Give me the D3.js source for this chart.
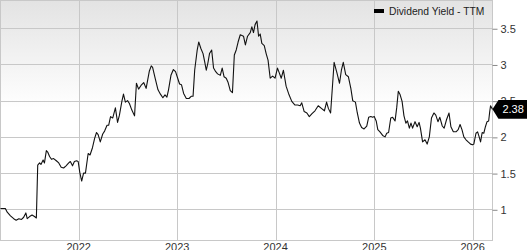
<!DOCTYPE html>
<html>
<head>
<meta charset="utf-8">
<script src="https://cdn.jsdelivr.net/npm/d3@7"></script>
<style>
  html, body { margin: 0; padding: 0; background: #fff; }
  svg { display: block; font-family: 'Liberation Sans', Arial, sans-serif; }
</style>
</head>
<body>
<div id="chart"></div>
<script>
const width = 527;
const height = 250;

const seriesName = 'Dividend Yield - TTM';
const yTicks = [1, 1.5, 2, 2.5, 3, 3.5];
const xTicks = ['2022-01-01', '2023-01-01', '2024-01-01', '2025-01-01', '2026-01-01'];
const lastLabel = '2.38';

const dates = [
  '2021-03-17', '2021-04-04', '2021-04-11', '2021-04-23', '2021-05-05', '2021-05-14', '2021-05-24',
  '2021-06-03', '2021-06-11', '2021-06-19', '2021-06-24', '2021-07-03', '2021-07-12', '2021-07-21',
  '2021-07-28', '2021-08-02', '2021-08-09', '2021-08-14', '2021-08-22', '2021-08-27', '2021-09-03',
  '2021-09-08', '2021-09-15', '2021-09-22', '2021-09-30', '2021-10-10', '2021-10-19', '2021-10-28',
  '2021-11-06', '2021-11-15', '2021-11-25', '2021-12-01', '2021-12-09', '2021-12-16', '2021-12-24',
  '2021-12-30', '2022-01-05', '2022-01-12', '2022-01-19', '2022-01-26', '2022-02-05', '2022-02-12',
  '2022-02-21', '2022-03-01', '2022-03-08', '2022-03-14', '2022-03-22', '2022-03-31', '2022-04-07',
  '2022-04-16', '2022-04-22', '2022-04-29', '2022-05-07', '2022-05-17', '2022-05-25', '2022-06-01',
  '2022-06-10', '2022-06-16', '2022-06-23', '2022-07-01', '2022-07-08', '2022-07-17', '2022-07-27',
  '2022-08-03', '2022-08-11', '2022-08-20', '2022-08-30', '2022-09-08', '2022-09-14', '2022-09-20',
  '2022-09-27', '2022-10-02', '2022-10-12', '2022-10-22', '2022-10-31', '2022-11-09', '2022-11-17',
  '2022-11-24', '2022-11-30', '2022-12-09', '2022-12-18', '2022-12-26', '2023-01-03', '2023-01-10',
  '2023-01-17', '2023-01-25', '2023-02-04', '2023-02-14', '2023-02-22', '2023-03-01', '2023-03-07',
  '2023-03-16', '2023-03-22', '2023-03-30', '2023-04-07', '2023-04-13', '2023-04-19', '2023-04-25',
  '2023-05-01', '2023-05-09', '2023-05-16', '2023-05-24', '2023-05-31', '2023-06-10', '2023-06-17',
  '2023-06-24', '2023-07-02', '2023-07-09', '2023-07-17', '2023-07-25', '2023-08-01', '2023-08-08',
  '2023-08-15', '2023-08-23', '2023-09-04', '2023-09-11', '2023-09-19', '2023-09-29', '2023-10-05',
  '2023-10-11', '2023-10-17', '2023-10-24', '2023-10-30', '2023-11-05', '2023-11-11', '2023-11-20',
  '2023-11-27', '2023-12-04', '2023-12-12', '2023-12-21', '2023-12-30', '2024-01-08', '2024-01-15',
  '2024-01-22', '2024-01-30', '2024-02-09', '2024-02-18', '2024-03-01', '2024-03-13', '2024-03-23',
  '2024-04-01', '2024-04-07', '2024-04-16', '2024-04-26', '2024-05-05', '2024-05-15', '2024-05-26',
  '2024-06-07', '2024-06-20', '2024-06-30', '2024-07-08', '2024-07-15', '2024-07-23', '2024-08-05',
  '2024-08-15', '2024-08-25', '2024-09-01', '2024-09-08', '2024-09-17', '2024-09-27', '2024-10-06',
  '2024-10-13', '2024-10-23', '2024-10-30', '2024-11-07', '2024-11-15', '2024-11-24', '2024-12-04',
  '2024-12-11', '2024-12-19', '2024-12-26', '2025-01-01', '2025-01-08', '2025-01-14', '2025-01-22',
  '2025-02-01', '2025-02-10', '2025-02-16', '2025-02-23', '2025-03-03', '2025-03-10', '2025-03-19',
  '2025-03-25', '2025-03-31', '2025-04-06', '2025-04-14', '2025-04-21', '2025-04-28', '2025-05-04',
  '2025-05-11', '2025-05-17', '2025-05-23', '2025-06-01', '2025-06-09', '2025-06-16', '2025-06-21',
  '2025-06-29', '2025-07-08', '2025-07-16', '2025-07-24', '2025-08-01', '2025-08-10', '2025-08-17',
  '2025-08-25', '2025-09-01', '2025-09-10', '2025-09-17', '2025-09-26', '2025-10-05', '2025-10-12',
  '2025-10-21', '2025-10-31', '2025-11-08', '2025-11-15', '2025-11-22', '2025-11-29', '2025-12-07',
  '2025-12-15', '2025-12-24', '2025-12-31', '2026-01-05', '2026-01-13', '2026-01-19', '2026-01-24',
  '2026-01-30', '2026-02-05', '2026-02-11', '2026-02-17', '2026-02-23', '2026-03-01', '2026-03-05',
  '2026-03-08', '2026-03-15'
];

const yieldValues = [
  1.01, 1.01, 0.96, 0.91, 0.87, 0.85, 0.87,
  0.86, 0.89, 0.95, 0.87, 0.90, 0.92, 0.90,
  0.88, 1.61, 1.64, 1.62, 1.68, 1.64, 1.81,
  1.79, 1.73, 1.69, 1.70, 1.67, 1.64, 1.58,
  1.57, 1.60, 1.64, 1.66, 1.60, 1.66, 1.67,
  1.66, 1.51, 1.39, 1.50, 1.50, 1.77, 1.75,
  1.85, 1.98, 2.06, 2.03, 1.93, 2.04, 2.08,
  2.16, 2.16, 2.28, 2.26, 2.40, 2.20, 2.30,
  2.49, 2.59, 2.48, 2.50, 2.46, 2.37, 2.29,
  2.74, 2.66, 2.71, 2.75, 2.67, 2.79, 2.91,
  2.98, 2.96, 2.80, 2.65, 2.59, 2.54, 2.58,
  2.55, 2.65, 2.85, 2.93, 2.90, 2.81, 2.73,
  2.72, 2.60, 2.53, 2.53, 2.56, 2.56, 2.92,
  3.19, 3.31, 3.22, 3.15, 3.04, 2.92, 3.02,
  3.15, 3.20, 2.95, 2.90, 2.87, 2.85, 2.95,
  2.83, 2.81, 2.75, 2.64, 2.61, 3.13, 3.20,
  3.31, 3.41, 3.39, 3.27, 3.39, 3.44, 3.52,
  3.44, 3.55, 3.60, 3.39, 3.42, 3.29, 3.26,
  3.15, 3.06, 2.81, 2.84, 2.81, 2.95, 2.88,
  2.81, 2.92, 2.70, 2.60, 2.49, 2.44, 2.44,
  2.43, 2.47, 2.35, 2.33, 2.28, 2.32, 2.36,
  2.43, 2.39, 2.36, 2.48, 2.39, 2.33, 3.03,
  2.89, 2.74, 2.92, 3.03, 2.86, 2.83, 2.67,
  2.50, 2.48, 2.33, 2.19, 2.13, 2.11, 2.15,
  2.27, 2.28, 2.27, 2.28, 2.22, 2.10, 2.07,
  2.02, 2.00, 2.05, 2.06, 2.26, 2.27, 2.22,
  2.40, 2.63, 2.59, 2.49, 2.29, 2.19, 2.22,
  2.12, 2.19, 2.12, 2.21, 2.14, 2.20, 2.12,
  1.93, 1.96, 1.90, 2.00, 2.26, 2.33, 2.30,
  2.21, 2.27, 2.15, 2.12, 2.24, 2.33, 2.14,
  2.07, 2.07, 2.10, 2.17, 2.10, 2.00, 1.96,
  1.93, 1.90, 1.89, 1.90, 2.05, 2.07, 2.01,
  1.93, 2.06, 2.05, 2.14, 2.21, 2.22, 2.35,
  2.43, 2.38
];

const parse = d3.timeParse('%Y-%m-%d');
const data = dates.map((d, i) => ({ date: parse(d), value: yieldValues[i] }));

const plotLeft = 0.5;
const plotRight = 492.5;
const plotTop = 0.5;
const plotBottom = 240.5;

const x = d3
  .scaleTime()
  .domain([parse('2021-03-17'), parse('2026-03-16')])
  .range([plotLeft, 492.7]);
const y = d3.scaleLinear().domain([0.576, 3.89]).range([240, 0]);

const svg = d3.select('#chart').append('svg').attr('width', width).attr('height', height);

// background fade
const grad = svg
  .append('defs')
  .append('linearGradient')
  .attr('id', 'bg')
  .attr('x1', 0)
  .attr('y1', 0)
  .attr('x2', 0)
  .attr('y2', 1);
grad.append('stop').attr('offset', '0%').attr('stop-color', '#e3e3e3');
grad.append('stop').attr('offset', '45%').attr('stop-color', '#ffffff');
grad.append('stop').attr('offset', '100%').attr('stop-color', '#ffffff');

svg
  .append('rect')
  .attr('x', plotLeft)
  .attr('y', plotTop)
  .attr('width', plotRight - plotLeft)
  .attr('height', plotBottom - plotTop)
  .attr('fill', 'url(#bg)');

// grid
svg
  .append('g')
  .selectAll('line')
  .data(yTicks)
  .join('line')
  .attr('x1', plotLeft)
  .attr('x2', plotRight)
  .attr('y1', (d) => Math.round(y(d)) + 0.5)
  .attr('y2', (d) => Math.round(y(d)) + 0.5)
  .attr('stroke', '#c8c8c8');

svg
  .append('g')
  .selectAll('line')
  .data(xTicks.map(parse))
  .join('line')
  .attr('x1', (d) => Math.round(x(d)) + 0.5)
  .attr('x2', (d) => Math.round(x(d)) + 0.5)
  .attr('y1', plotTop)
  .attr('y2', plotBottom)
  .attr('stroke', '#c8c8c8');

svg
  .append('rect')
  .attr('x', plotLeft)
  .attr('y', plotTop)
  .attr('width', plotRight - plotLeft)
  .attr('height', plotBottom - plotTop)
  .attr('fill', 'none')
  .attr('stroke', '#c8c8c8');

// right axis
const yAxis = d3.axisRight(y).tickValues(yTicks).tickSize(5).tickPadding(3).tickFormat((d) => d);
const yg = svg.append('g').attr('transform', `translate(${plotRight},0.5)`).call(yAxis);
yg.select('.domain').remove();
yg.selectAll('line').attr('stroke', '#888');
yg.selectAll('text').attr('fill', '#333').style('font-size', '11px').style('font-family', "'Liberation Sans', Arial, sans-serif");

// x labels
svg
  .append('g')
  .selectAll('text')
  .data(xTicks.map(parse))
  .join('text')
  .attr('x', (d) => x(d))
  .attr('y', 250.5)
  .attr('text-anchor', 'middle')
  .attr('fill', '#333')
  .style('font-size', '11px')
  .text((d) => d3.timeFormat('%Y')(d));

// line
const line = d3
  .line()
  .x((d) => x(d.date))
  .y((d) => y(d.value));
svg
  .append('path')
  .datum(data)
  .attr('fill', 'none')
  .attr('stroke', '#111')
  .attr('stroke-width', 1.1)
  .attr('stroke-linejoin', 'round')
  .attr('d', line);

// legend
svg.append('rect').attr('x', 374).attr('y', 9).attr('width', 10).attr('height', 4).attr('fill', '#000');
svg
  .append('text')
  .attr('x', 389)
  .attr('y', 15)
  .attr('fill', '#222')
  .style('font-size', '10.3px')
  .text(seriesName);

// last value marker
const last = data[data.length - 1];
const ly = y(last.value);
const lx = x(last.date);
svg
  .append('path')
  .attr('d', `M${lx},${ly} L${lx + 6},${ly - 9.3} L527,${ly - 9.3} L527,${ly + 9.3} L${lx + 6},${ly + 9.3} Z`)
  .attr('fill', '#000');
svg
  .append('text')
  .attr('x', lx + 10)
  .attr('y', ly + 4)
  .attr('fill', '#fff')
  .style('font-size', '11px')
  .text(lastLabel);
</script>
</body>
</html>
